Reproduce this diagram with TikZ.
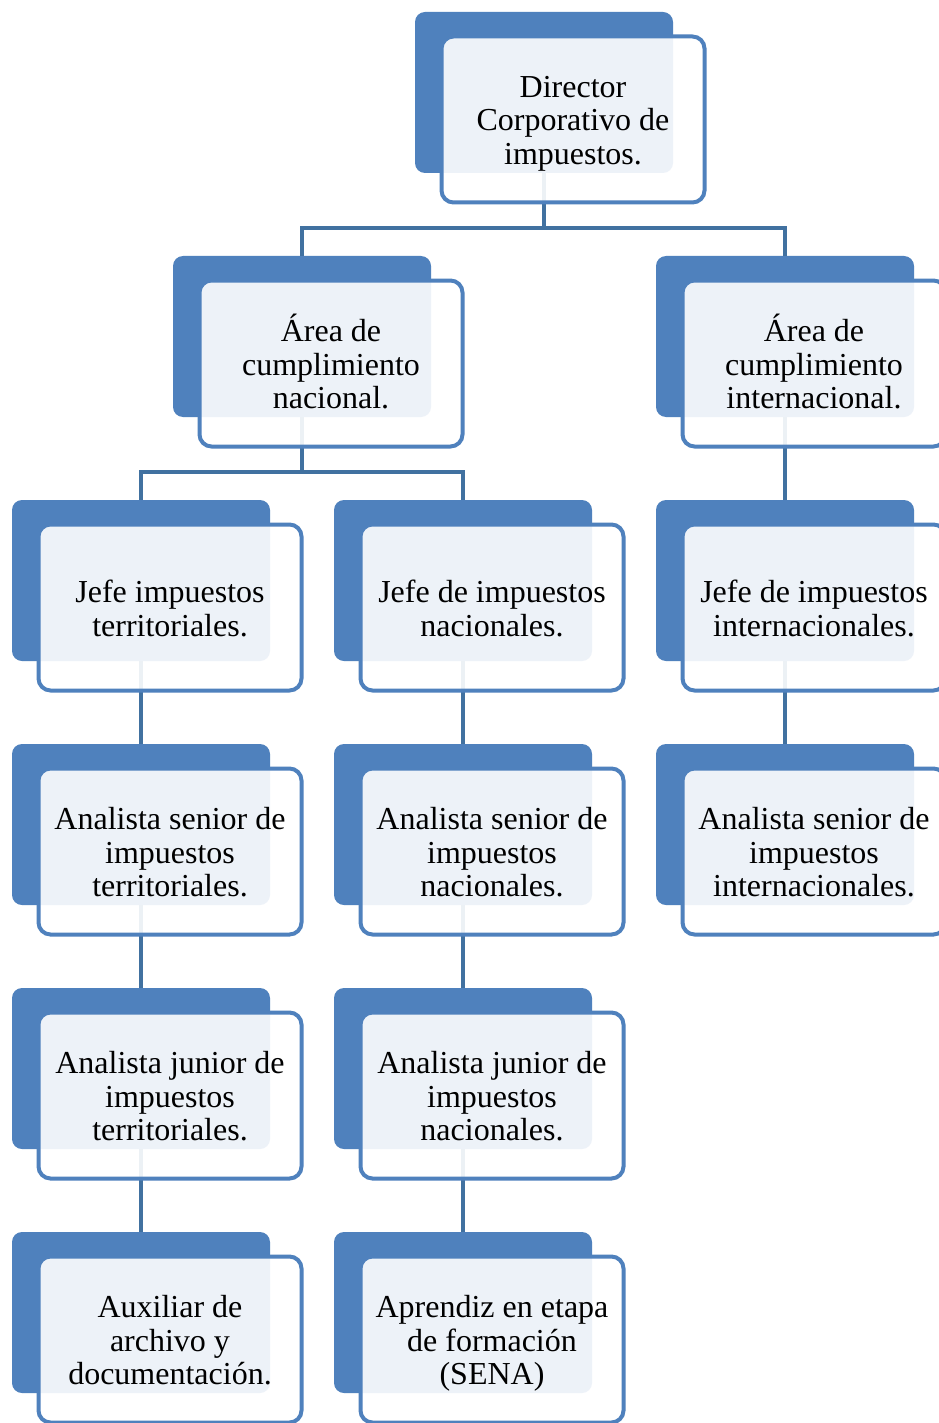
\documentclass[tikz,border=0pt]{standalone}
\usepackage{fontspec}
\setmainfont{Liberation Serif}
\definecolor{acc}{RGB}{79,129,189}
\definecolor{conn}{RGB}{65,113,160}
\tikzset{
 backbox/.style={rectangle, rounded corners=10pt, fill=acc, draw=none, minimum width=258pt, minimum height=161pt, inner sep=0pt},
 frontbox/.style={rectangle, rounded corners=12pt, draw=acc, line width=4pt, fill=white, fill opacity=0.9, minimum width=263pt, minimum height=166pt, inner sep=0pt},
 txt/.style={align=center, inner sep=0pt, font=\fontsize{32}{33.5}\selectfont, yshift=-1pt},
 conline/.style={draw=conn, line width=4pt}
}
\begin{document}
\begin{tikzpicture}[x=1pt,y=-1pt]
\fill[white] (0,0) rectangle (938,1423);
\useasboundingbox (0,0) rectangle (938,1423);
% back boxes
\node[backbox] (bdir) at (544,92.5) {};
\node[backbox] (bnac) at (302,336.5) {};
\node[backbox] (bint) at (785,336.5) {};
\node[backbox] (bjt) at (141,580.5) {};
\node[backbox] (bjn) at (463,580.5) {};
\node[backbox] (bji) at (785,580.5) {};
\node[backbox] (bst) at (141,824.5) {};
\node[backbox] (bsn) at (463,824.5) {};
\node[backbox] (bsi) at (785,824.5) {};
\node[backbox] (brt) at (141,1068.5) {};
\node[backbox] (brn) at (463,1068.5) {};
\node[backbox] (bat) at (141,1312.5) {};
\node[backbox] (ban) at (463,1312.5) {};
% connectors
\coordinate (j1) at (544,228);
\coordinate (j2) at (302,472);
\draw[conline] (bdir.south) -- (j1) -| (bnac.north);
\draw[conline] (j1) -| (bint.north);
\draw[conline] (bnac.south) -- (j2) -| (bjt.north);
\draw[conline] (j2) -| (bjn.north);
\draw[conline] (bint.south) -- (bji.north);
\draw[conline] (bjt.south) -- (bst.north);
\draw[conline] (bjn.south) -- (bsn.north);
\draw[conline] (bji.south) -- (bsi.north);
\draw[conline] (bst.south) -- (brt.north);
\draw[conline] (bsn.south) -- (brn.north);
\draw[conline] (brt.south) -- (bat.north);
\draw[conline] (brn.south) -- (ban.north);
% front boxes
\node[frontbox] (fdir) at (573,119.5) {};
\node[frontbox] (fnac) at (331,363.5) {};
\node[frontbox] (fint) at (814,363.5) {};
\node[frontbox] (fjt) at (170,607.5) {};
\node[frontbox] (fjn) at (492,607.5) {};
\node[frontbox] (fji) at (814,607.5) {};
\node[frontbox] (fst) at (170,851.5) {};
\node[frontbox] (fsn) at (492,851.5) {};
\node[frontbox] (fsi) at (814,851.5) {};
\node[frontbox] (frt) at (170,1095.5) {};
\node[frontbox] (frn) at (492,1095.5) {};
\node[frontbox] (fat) at (170,1339.5) {};
\node[frontbox] (fan) at (492,1339.5) {};
% texts
\node[txt, yshift=-3pt] (tdir) at (fdir.center) {Director\\Corporativo de\\impuestos.};
\node[txt, yshift=3pt] (tnac) at (fnac.center) {Área de\\cumplimiento\\nacional.};
\node[txt, yshift=3pt] (tint) at (fint.center) {Área de\\cumplimiento\\internacional.};
\node[txt] (tjt) at (fjt.center) {Jefe impuestos\\territoriales.};
\node[txt] (tjn) at (fjn.center) {Jefe de impuestos\\nacionales.};
\node[txt] (tji) at (fji.center) {Jefe de impuestos\\internacionales.};
\node[txt] (tst) at (fst.center) {Analista senior de\\impuestos\\territoriales.};
\node[txt] (tsn) at (fsn.center) {Analista senior de\\impuestos\\nacionales.};
\node[txt] (tsi) at (fsi.center) {Analista senior de\\impuestos\\internacionales.};
\node[txt] (trt) at (frt.center) {Analista junior de\\impuestos\\territoriales.};
\node[txt] (trn) at (frn.center) {Analista junior de\\impuestos\\nacionales.};
\node[txt] (tat) at (fat.center) {Auxiliar de\\archivo y\\documentación.};
\node[txt, yshift=-3pt] (tan) at (fan.center) {Aprendiz en etapa\\de formación\\(SENA)};
\end{tikzpicture}
\end{document}
